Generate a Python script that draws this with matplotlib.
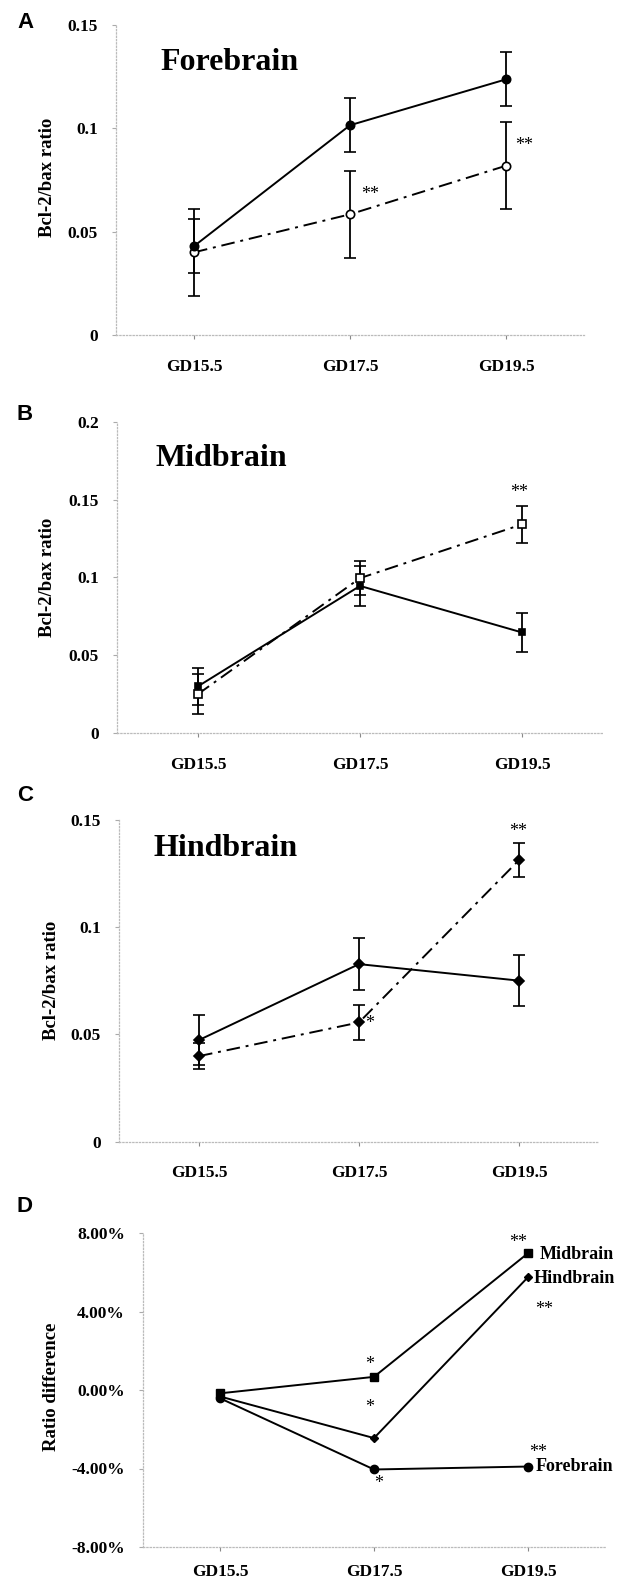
import matplotlib
matplotlib.use("Agg")
import matplotlib.pyplot as plt

# Data
stages = ["GD15.5", "GD17.5", "GD19.5"]

fore_ctrl = [0.043, 0.1015, 0.1237]
fore_ctrl_err = [0.013, 0.013, 0.013]
fore_trt = [0.040, 0.0584, 0.0819]
fore_trt_err = [0.021, 0.021, 0.021]

mid_ctrl = [0.030, 0.0945, 0.0646]
mid_ctrl_err = [0.012, 0.013, 0.0126]
mid_trt = [0.025, 0.0995, 0.134]
mid_trt_err = [0.013, 0.011, 0.012]

hind_ctrl = [0.0474, 0.0828, 0.0751]
hind_ctrl_err = [0.0116, 0.012, 0.012]
hind_trt = [0.0399, 0.0556, 0.1313]
hind_trt_err = [0.006, 0.008, 0.008]

diff_mid = [-0.17, 0.67, 6.97]
diff_hind = [-0.33, -2.45, 5.75]
diff_fore = [-0.42, -4.05, -3.9]

W, H = 624, 1582
plt.rcParams["font.family"] = ["Liberation Serif", "DejaVu Serif"]
fig = plt.figure(figsize=(W / 100, H / 100), dpi=100)

DASHDOT = (0, (7, 3, 1.5, 3))
x = list(range(len(stages)))


def px_axes(left, right, top, bottom):
    return fig.add_axes([left / W, 1 - bottom / H, (right - left) / W, (bottom - top) / H])


def style(ax, yticks, ylabels):
    for s in ["top", "right"]:
        ax.spines[s].set_visible(False)
    for s in ["left", "bottom"]:
        ax.spines[s].set_color("#bbbbbb")
        ax.spines[s].set_linestyle(":")
        ax.spines[s].set_linewidth(0.9)
    ax.set_xlim(-0.5, 2.5)
    ax.set_xticks(x)
    ax.set_xticklabels(stages, fontsize=12.5, fontweight="bold")
    ax.set_yticks(yticks)
    ax.set_yticklabels(ylabels, fontsize=12.5, fontweight="bold")
    ax.tick_params(axis="y", length=3, color="#aaaaaa", pad=10)
    ax.tick_params(axis="x", length=3, color="#888888", pad=14)
    ax.patch.set_alpha(0)


def ebar(ax, y, err, ls, marker, mfc, ms):
    ax.errorbar(x, y, yerr=err, color="black", linestyle=ls, linewidth=1.4,
                marker=marker, markersize=ms, markerfacecolor=mfc,
                markeredgecolor="black", markeredgewidth=1.2,
                capsize=4.5, elinewidth=1.3, capthick=1.3, zorder=3)


# Panel A - Forebrain
axA = px_axes(116, 584, 25, 335)
ebar(axA, fore_trt, fore_trt_err, DASHDOT, "o", "white", 6)
ebar(axA, fore_ctrl, fore_ctrl_err, "-", "o", "black", 6)
axA.set_ylim(0, 0.15)
style(axA, [0, 0.05, 0.1, 0.15], ["0", "0.05", "0.1", "0.15"])
axA.text(1.128, 0.0681, "**", fontsize=13, ha="center", va="center")
axA.text(2.115, 0.0916, "**", fontsize=13, ha="center", va="center")

# Panel B - Midbrain
axB = px_axes(117, 603, 421.7, 733)
ebar(axB, mid_trt, mid_trt_err, DASHDOT, "s", "white", 6)
ebar(axB, mid_ctrl, mid_ctrl_err, "-", "s", "black", 5)
axB.set_ylim(0, 0.2)
style(axB, [0, 0.05, 0.1, 0.15, 0.2], ["0", "0.05", "0.1", "0.15", "0.2"])
axB.text(1.98, 0.1544, "**", fontsize=13, ha="center", va="center")

# Panel C - Hindbrain
axC = px_axes(119, 599, 820, 1141.7)
ebar(axC, hind_trt, hind_trt_err, DASHDOT, "D", "black", 5)
ebar(axC, hind_ctrl, hind_ctrl_err, "-", "D", "black", 5)
axC.set_ylim(0, 0.15)
style(axC, [0, 0.05, 0.1, 0.15], ["0", "0.05", "0.1", "0.15"])
axC.text(1.069, 0.0549, "*", fontsize=13, ha="center", va="center")
axC.text(1.994, 0.1446, "**", fontsize=13, ha="center", va="center")

# Panel D - ratio difference
axD = px_axes(143, 605, 1233, 1547)
axD.plot(x, diff_fore, color="black", linewidth=1.4, marker="o", markersize=6, zorder=3)
axD.plot(x, diff_hind, color="black", linewidth=1.4, marker="D", markersize=4.5, zorder=3)
axD.plot(x, diff_mid, color="black", linewidth=1.4, marker="s", markersize=6, zorder=3)
axD.set_ylim(-8, 8)
style(axD, [-8, -4, 0, 4, 8], ["-8.00%", "-4.00%", "0.00%", "4.00%", "8.00%"])
axD.tick_params(axis="x", pad=9)
lbl = dict(fontsize=13, fontweight="bold", ha="left", va="center")
axD.text(2.078, 6.92, "Midbrain", **lbl)
axD.text(2.039, 5.67, "Hindbrain", **lbl)
axD.text(2.052, -3.9, "Forebrain", **lbl)
for xs, ys, s in [(1.935, 7.5, "**"), (2.104, 4.08, "**"), (2.065, -3.17, "**"),
                  (0.974, 1.3, "*"), (0.974, -0.88, "*"), (1.032, -4.75, "*")]:
    axD.text(xs, ys, s, fontsize=13, ha="center", va="center")

# Titles, panel letters, y labels
for txt, px, py in [("Forebrain", 160, 62), ("Midbrain", 156, 458), ("Hindbrain", 154, 848)]:
    fig.text(px / W, 1 - py / H, txt, fontsize=23, fontweight="bold", ha="left", va="center")

for txt, py in [("A", 22), ("B", 414), ("C", 796), ("D", 1207)]:
    fig.text(17 / W, 1 - py / H, txt, fontsize=16, fontweight="bold",
             family=["Liberation Sans", "DejaVu Sans"], ha="left", va="center")

for txt, px, py in [("Bcl-2/bax ratio", 48, 177), ("Bcl-2/bax ratio", 48, 577),
                    ("Bcl-2/bax ratio", 51, 980), ("Ratio difference", 52, 1387)]:
    fig.text(px / W, 1 - py / H, txt, fontsize=13.5, fontweight="bold",
             rotation=90, ha="center", va="center")

fig.savefig("out.png", dpi=100)
